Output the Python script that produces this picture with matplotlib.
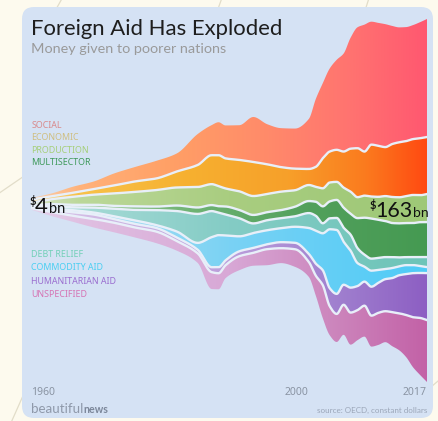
import numpy as np
import matplotlib
matplotlib.use("Agg")
import matplotlib.pyplot as plt
from matplotlib.patches import FancyBboxPatch, Polygon
from matplotlib.colors import LinearSegmentedColormap
from matplotlib.transforms import IdentityTransform, blended_transform_factory

# ---------------- data (US$ bn, constant dollars) ----------------
years = [1960, 1963, 1966, 1969, 1972, 1975, 1978, 1981, 1984, 1986, 1987, 1988,
         1990, 1992, 1994, 1996, 1998, 2000, 2001, 2002, 2003, 2004, 2005, 2006,
         2007, 2008, 2009, 2010, 2011, 2012, 2013, 2014, 2015, 2016, 2017]
social = [0.7, 1.3, 2.7, 3.4, 5.4, 6.5, 7.9, 8.1, 13.9, 13.5, 14.8, 14.8,
          15.6, 20.2, 18.0, 17.5, 18.0, 22.5, 30.5, 33.7, 37.3, 40.4, 44.0, 49.8,
          54.3, 57.0, 55.2, 55.2, 55.2, 53.0, 51.6, 51.2, 51.2, 52.1, 53.0]
economic = [1.3, 1.3, 1.8, 2.5, 3.6, 4.7, 5.2, 7.2, 9.9, 13.0, 13.9, 13.5,
            14.1, 15.3, 13.3, 11.0, 9.7, 7.2, 9.0, 13.5, 13.9, 14.4, 16.2, 19.3,
            22.0, 19.8, 23.3, 22.9, 22.0, 23.8, 24.7, 24.7, 25.1, 25.6, 25.6]
production = [1.1, 2.2, 3.6, 4.5, 5.6, 6.5, 7.4, 8.1, 9.2, 9.4, 9.0, 8.1,
              8.4, 8.5, 8.2, 8.3, 7.4, 7.2, 6.7, 8.1, 8.5, 8.1, 9.0, 9.9,
              9.4, 9.9, 9.9, 10.3, 11.2, 11.7, 11.7, 12.1, 12.6, 12.1, 12.6]
multisector = [0.4, 0.9, 1.1, 1.3, 1.3, 1.6, 1.6, 2.5, 2.9, 2.7, 2.9, 3.6,
               3.7, 3.8, 3.6, 3.6, 4.3, 5.4, 6.3, 7.6, 7.6, 8.1, 9.0, 9.4,
               13.5, 16.6, 18.0, 17.1, 16.2, 15.3, 15.3, 15.3, 15.3, 15.7, 15.7]
debt_relief = [0.5, 1.1, 1.3, 2.2, 3.4, 4.7, 6.7, 9.2, 13.0, 11.7, 10.1, 9.4,
               8.1, 4.3, 4.5, 4.5, 4.7, 6.7, 6.7, 4.5, 4.9, 5.4, 6.3, 7.2,
               6.7, 5.4, 5.4, 5.4, 5.4, 4.9, 4.0, 3.6, 3.6, 4.0, 4.5]
commodity_aid = [0.3, 0.7, 0.9, 0.9, 1.3, 1.6, 1.3, 2.7, 3.1, 13.5, 14.4, 11.2,
                 6.7, 6.7, 6.3, 6.3, 7.2, 11.7, 14.8, 16.6, 26.5, 28.7, 19.3, 16.6,
                 10.3, 6.7, 7.2, 5.8, 4.5, 4.5, 4.0, 4.0, 3.6, 3.1, 2.7]
humanitarian_aid = [0.2, 0.9, 1.6, 2.0, 1.6, 1.6, 1.6, 1.6, 1.6, 2.2, 2.7, 2.2,
                    2.2, 2.2, 2.2, 2.7, 2.9, 3.6, 5.4, 6.7, 8.1, 9.0, 9.0, 11.2,
                    10.8, 10.8, 13.0, 13.5, 14.4, 15.3, 17.1, 18.4, 19.8, 20.2, 21.1]
unspecified = [0.7, 1.8, 2.7, 3.8, 4.3, 4.5, 5.2, 4.3, 4.3, 7.6, 7.2, 5.8,
               6.3, 5.8, 7.2, 6.7, 7.9, 6.7, 9.0, 14.8, 13.0, 12.6, 13.5, 14.4,
               13.5, 13.9, 13.9, 14.4, 13.9, 15.3, 16.6, 18.9, 22.5, 25.6, 27.8]

legend_top = ["SOCIAL", "ECONOMIC", "PRODUCTION", "MULTISECTOR"]
legend_bottom = ["DEBT RELIEF", "COMMODITY AID", "HUMANITARIAN AID", "UNSPECIFIED"]
tick_years = [1960, 2000, 2017]
tick_labels = ["1960", "2000", "2017"]
start_value = "4"
end_value = "163"

# ---------------- style ----------------
W, H = 439, 421
BG = "#fdfaee"
CARD = "#d5e2f4"
SEP = "#e8eff9"

layer_stops = [  # bottom -> top
    [(0, "#e2d2ea"), (0.12, "#e0c0e2"), (0.5, "#d8a8d6"), (0.75, "#cd88be"), (1, "#c362a7")],
    [(0, "#dcd6ef"), (0.12, "#d4bde6"), (0.5, "#bb9edb"), (0.75, "#a283d0"), (1, "#8d5fc3")],
    [(0, "#d3e6f3"), (0.12, "#b0e0f2"), (0.5, "#7ad2f4"), (1, "#4ecbf7")],
    [(0, "#cfe3ea"), (0.12, "#a6dad6"), (0.5, "#84ccc5"), (1, "#6dc4b8")],
    [(0, "#cfe0cf"), (0.12, "#98c890"), (0.45, "#6ab070"), (0.7, "#52a05c"), (1, "#459a52")],
    [(0, "#d6e2c6"), (0.12, "#bcd89a"), (0.5, "#a9cd80"), (1, "#9ec877")],
    [(0, "#f5dca0"), (0.12, "#f8c24a"), (0.4, "#f6b030"), (0.65, "#f7a02a"), (0.85, "#fb7a1e"), (1, "#ff4a12")],
    [(0, "#fcd2b0"), (0.12, "#ffb27a"), (0.35, "#ffa066"), (0.6, "#ff8a6a"), (0.8, "#ff7470"), (1, "#ff5870")],
]
legend_top_colors = ["#d98a8c", "#cfbf82", "#a6cf7a", "#3f9a5c"]
legend_bottom_colors = ["#72d0b8", "#4ccff2", "#9b6fd0", "#d675b5"]

fig = plt.figure(figsize=(W / 100, H / 100), dpi=100)
fig.patch.set_facecolor(BG)

# faint background lines
for (x0, y0, x1, y1) in [(64, -5, 50, 20), (223, -5, 214, 20), (370, -5, 362, 20),
                         (-5, 196, 30, 172), (30, 380, 10, 425), (425, 392, 444, 376)]:
    fig.add_artist(plt.Line2D([x0, x1], [H - y0, H - y1], transform=IdentityTransform(),
                              color="#e2ddc9", lw=0.9, zorder=-3))

card = FancyBboxPatch((22, 3), 411, 411, boxstyle="round,pad=0,rounding_size=12",
                      transform=IdentityTransform(), fc=CARD, ec="none", zorder=-2)
fig.add_artist(card)

# ---------------- stream layout (d3 wiggle offset) ----------------
V = np.array([unspecified, humanitarian_aid, commodity_aid, debt_relief,
              multisector, production, economic, social], dtype=float)
X = np.array(years, dtype=float)
n, m = V.shape
base = np.zeros(m)
yb = 0.0
for j in range(1, m):
    dv = V[:, j] - V[:, j - 1]
    s3 = dv / 2 + np.concatenate([[0.0], np.cumsum(dv)[:-1]])
    s1 = V[:, j].sum()
    if s1:
        yb -= (s3 * V[:, j]).sum() / s1
    base[j] = yb
tops = base + np.cumsum(V, axis=0)
edges = np.vstack([base, tops])          # n+1 boundary curves


def monotone_curve(x, y, per_seg=12):
    """Monotone cubic (Fritsch-Carlson) curve through the data points, for drawing."""
    h = np.diff(x)
    d = np.diff(y) / h
    mt = np.zeros_like(y)
    mt[0], mt[-1] = d[0], d[-1]
    for i in range(1, len(y) - 1):
        if d[i - 1] * d[i] > 0:
            w1 = 2 * h[i] + h[i - 1]
            w2 = h[i] + 2 * h[i - 1]
            mt[i] = (w1 + w2) / (w1 / d[i - 1] + w2 / d[i])
    xs, ys = [], []
    for i in range(len(h)):
        t = np.linspace(0, 1, per_seg, endpoint=False)
        h00 = 2 * t**3 - 3 * t**2 + 1
        h10 = t**3 - 2 * t**2 + t
        h01 = -2 * t**3 + 3 * t**2
        h11 = t**3 - t**2
        xs.append(x[i] + t * h[i])
        ys.append(h00 * y[i] + h10 * h[i] * mt[i] + h01 * y[i + 1] + h11 * h[i] * mt[i + 1])
    xs.append([x[-1]])
    ys.append([y[-1]])
    return np.concatenate(xs), np.concatenate(ys)


curves = [monotone_curve(X, e) for e in edges]
XS = curves[0][0]
E = np.array([c[1] for c in curves])
for i in range(1, len(E)):
    E[i] = np.maximum(E[i], E[i - 1])

top_px, bot_px = 19, 382
tmax, bmin = E[-1].max(), E[0].min()
k = (bot_px - top_px) / (tmax - bmin)
ylo = bmin - (H - bot_px) / k
yhi = tmax + top_px / k

ax = fig.add_axes([31 / W, 0, 396 / W, 1], zorder=1)
ax.set_axis_off()
ax.patch.set_alpha(0)

grad = np.linspace(0, 1, 600)[None, :]
for i in range(n):
    cmap = LinearSegmentedColormap.from_list(f"g{i}", layer_stops[i])
    verts = np.concatenate([np.column_stack([XS, E[i]]),
                            np.column_stack([XS[::-1], E[i + 1][::-1]])])
    poly = Polygon(verts, closed=True, fc="none", ec="none")
    ax.add_patch(poly)
    im = ax.imshow(grad, cmap=cmap, extent=[X[0], X[-1], ylo, yhi], aspect="auto",
                   interpolation="bilinear", zorder=1)
    im.set_clip_path(poly)

for i in range(1, n):
    ax.plot(XS, E[i], color=SEP, lw=1.7, zorder=3, solid_joinstyle="round")

ax.set_xlim(X[0], X[-1])
ax.set_ylim(ylo, yhi)

# ---------------- text ----------------
renderer = fig.canvas.get_renderer()


def ftext(x, y, s, width=None, **kw):
    t = fig.text(x / W, 1 - y / H, s, va="baseline", zorder=5, **kw)
    if width:
        w = t.get_window_extent(renderer).width
        t.set_fontsize(t.get_fontsize() * width / w)
    return t


ftext(31, 35, "Foreign Aid Has Exploded", width=252, family="Lato", fontsize=16, color="#1e1e1e")
ftext(31, 53, "Money given to poorer nations", width=196, family="Lato", fontsize=10, color="#9a9a9a")

LEG = dict(family="Noto Sans", fontstretch="condensed", fontweight="medium")
probe = ftext(31.5, 165, legend_top[3], width=60, fontsize=7, color=legend_top_colors[3], **LEG)
leg_size = probe.get_fontsize()
for i, lab in enumerate(legend_top[:3]):
    ftext(31.5, 127.5 + i * 12.8, lab, fontsize=leg_size, color=legend_top_colors[i], **LEG)
for i, lab in enumerate(legend_bottom):
    ftext(31.5, 257 + i * 13.3, lab, fontsize=leg_size, color=legend_bottom_colors[i], **LEG)


def money(x, y_num, val, num_size, bn_size):
    ftext(x - 5, y_num - 8, "$", family="Lato", fontsize=8, color="#111111", fontweight="bold")
    t = ftext(x, y_num, val, family="Lato", fontsize=num_size, color="#111111")
    bb = t.get_window_extent(renderer)
    ftext(bb.x1 + 1, y_num, "bn", family="Lato", fontsize=bn_size, color="#111111")


money(35, 213, start_value, 16, 10.5)
money(375, 217, end_value, 15.5, 10)

# x labels
tr = blended_transform_factory(ax.transData, fig.transFigure)
aligns = ["left", "right", "right"]
for yr, lab, ha in zip(tick_years, tick_labels, aligns):
    ax.text(yr, 1 - 395 / H, lab, transform=tr, ha=ha, va="baseline",
            family="Noto Sans", fontstretch="condensed", fontsize=7.5, color="#8a94a3")

t1 = ftext(31.5, 413, "beautiful", width=52, family="Lato", fontsize=10, color="#8f99aa")
bb = t1.get_window_extent(renderer)
ftext(bb.x1, 413, "news", width=25, family="Lato", fontsize=10, color="#7c879a", fontweight="bold")
ftext(427, 413, "source: OECD, constant dollars", width=110, family="Lato", fontsize=5.5,
      color="#9ba6b8", ha="right")

fig.savefig("out.png", dpi=100, facecolor=BG)
